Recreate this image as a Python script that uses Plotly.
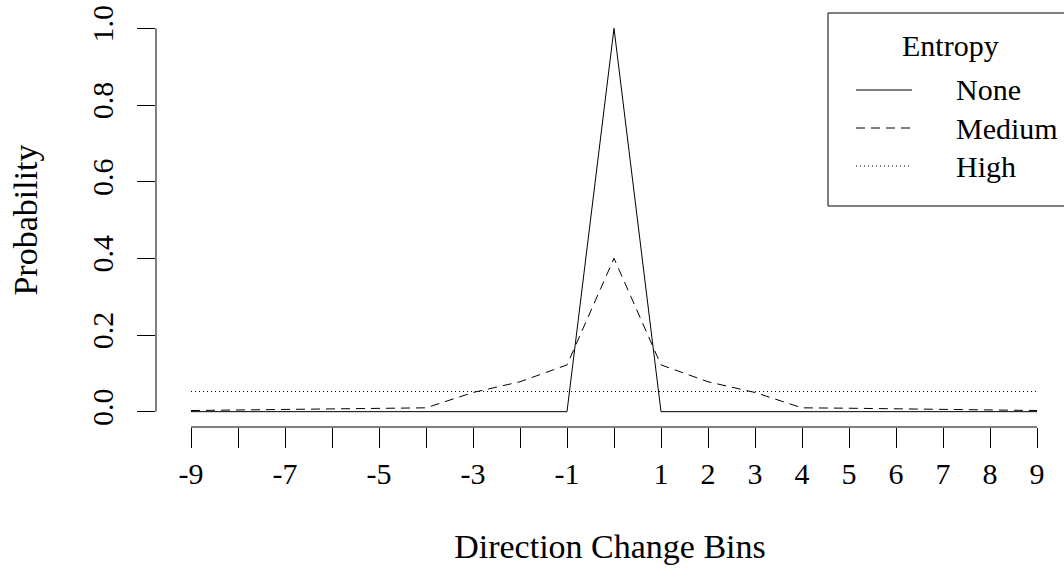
import plotly.graph_objects as go

bins = list(range(-9, 10))
none_vals = [0]*9 + [1.0] + [0]*9
medium_vals = [0.003, 0.004, 0.005, 0.007, 0.009, 0.01, 0.05, 0.078, 0.122, 0.40,
               0.122, 0.078, 0.05, 0.01, 0.009, 0.007, 0.005, 0.004, 0.003]
high_vals = [1/19]*19
series_names = ["None", "Medium", "High"]
series_dash = ["solid", "9px,6px", "1px,3px"]
xtick_text = ["-9", "", "-7", "", "-5", "", "-3", "", "-1", "", "1", "2", "3", "4", "5", "6", "7", "8", "9"]
ytick_vals = [0.0, 0.2, 0.4, 0.6, 0.8, 1.0]
ytick_text = ["0.0", "0.2", "0.4", "0.6", "0.8", "1.0"]

FONT = "Liberation Serif"
FS = 28
TFS = 30

fig = go.Figure()
for name, vals, dash in zip(series_names, [none_vals, medium_vals, high_vals], series_dash):
    fig.add_trace(go.Scatter(x=bins, y=vals, mode="lines", name=name,
                             line=dict(color="black", width=1, dash=dash), showlegend=False))

# axis lines spanning first to last tick (R style)
fig.add_shape(type="line", xref="x", yref="paper", x0=bins[0], x1=bins[-1], y0=0, y1=0,
              line=dict(color="black", width=1))
fig.add_shape(type="line", xref="paper", yref="y", x0=0, x1=0, y0=ytick_vals[0], y1=ytick_vals[-1],
              line=dict(color="black", width=1))

# manual legend box (R style)
W, H = 1064, 578
ml, mr, mt, mb = 156, 0, 13, 151
pw, ph = W - ml - mr, H - mt - mb
def px(x): return (x - ml) / pw
def py(y): return 1 - (y - mt) / ph

fig.add_shape(type="rect", xref="paper", yref="paper", x0=px(828), x1=px(1070), y0=py(13), y1=py(206),
              line=dict(color="black", width=1), fillcolor="white", layer="above")
fig.add_annotation(xref="paper", yref="paper", x=px(950), y=py(45), text="Entropy", showarrow=False,
                   font=dict(family=FONT, size=TFS, color="black"), xanchor="center", yanchor="middle")
for i, (name, dash) in enumerate(zip(series_names, series_dash)):
    yy = 90 + 38*i
    fig.add_shape(type="line", xref="paper", yref="paper", x0=px(856), x1=px(912), y0=py(yy), y1=py(yy),
                  line=dict(color="black", width=1, dash=dash), layer="above")
    fig.add_annotation(xref="paper", yref="paper", x=px(954), y=py(yy), text=name, showarrow=False,
                       font=dict(family=FONT, size=TFS, color="black"), xanchor="left", yanchor="middle")

fig.update_layout(
    width=W, height=H,
    margin=dict(l=ml, r=mr, t=mt, b=mb),
    paper_bgcolor="white", plot_bgcolor="white",
    font=dict(family=FONT, size=FS, color="black"),
    xaxis=dict(range=[-9 - 35/47, 9 + 27/47], tickvals=bins, ticktext=xtick_text,
               ticks="outside", ticklen=20, tickcolor="black", tickwidth=1,
               showgrid=False, zeroline=False, showline=False,
               title=dict(text="Direction Change Bins", standoff=45),
               tickfont=dict(family=FONT, size=TFS)),
    yaxis=dict(range=[-0.04, 1.04], tickvals=ytick_vals, ticktext=ytick_text, tickangle=-90,
               ticks="outside", ticklen=18, tickcolor="black", tickwidth=1,
               ticklabelstandoff=12,
               showgrid=False, zeroline=False, showline=False,
               title=dict(text="Probability", standoff=38),
               tickfont=dict(family=FONT, size=TFS)),
)

fig.write_html("out.html")
